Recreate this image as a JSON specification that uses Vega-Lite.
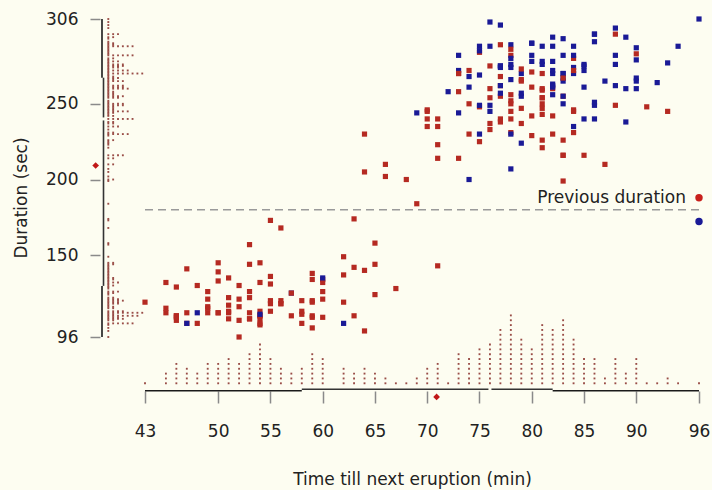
{
"$schema":"https://vega.github.io/schema/vega-lite/v6.json",
"width":554,"height":318,
"autosize":{"type":"none"},
"padding":{"left":145,"top":19,"right":13,"bottom":153},
"background":"#fdfdf1",
"config":{"view":{"stroke":null},"font":"DejaVu Sans","axis":{"grid":false,"domain":false}},
"data":{"values":[
{"w":79,"d":216},{"w":54,"d":108},{"w":74,"d":200},{"w":62,"d":137},{"w":85,"d":272},{"w":55,"d":173},{"w":88,"d":282},{"w":85,"d":216},{"w":51,"d":117},{"w":85,"d":261},
{"w":54,"d":110},{"w":84,"d":235},{"w":78,"d":252},{"w":47,"d":105},{"w":83,"d":282},{"w":52,"d":130},{"w":62,"d":105},{"w":84,"d":288},{"w":52,"d":96},{"w":79,"d":255},
{"w":51,"d":108},{"w":47,"d":105},{"w":78,"d":207},{"w":69,"d":184},{"w":74,"d":272},{"w":83,"d":216},{"w":55,"d":118},{"w":76,"d":245},{"w":78,"d":231},{"w":79,"d":266},
{"w":73,"d":258},{"w":77,"d":268},{"w":66,"d":202},{"w":80,"d":242},{"w":74,"d":230},{"w":52,"d":121},{"w":48,"d":112},{"w":80,"d":290},{"w":59,"d":110},{"w":90,"d":287},
{"w":80,"d":261},{"w":58,"d":113},{"w":84,"d":274},{"w":58,"d":105},{"w":73,"d":272},{"w":83,"d":199},{"w":64,"d":230},{"w":53,"d":126},{"w":82,"d":278},{"w":59,"d":120},
{"w":75,"d":288},{"w":90,"d":283},{"w":54,"d":110},{"w":80,"d":290},{"w":54,"d":104},{"w":83,"d":293},{"w":71,"d":223},{"w":64,"d":100},{"w":77,"d":274},{"w":81,"d":259},
{"w":59,"d":134},{"w":84,"d":270},{"w":48,"d":105},{"w":82,"d":288},{"w":60,"d":109},{"w":92,"d":264},{"w":78,"d":250},{"w":78,"d":282},{"w":65,"d":124},{"w":73,"d":282},
{"w":82,"d":242},{"w":56,"d":118},{"w":79,"d":270},{"w":71,"d":240},{"w":62,"d":119},{"w":76,"d":304},{"w":60,"d":121},{"w":78,"d":274},{"w":76,"d":233},{"w":83,"d":216},
{"w":75,"d":248},{"w":82,"d":260},{"w":70,"d":246},{"w":65,"d":158},{"w":73,"d":244},{"w":88,"d":296},{"w":76,"d":237},{"w":80,"d":271},{"w":48,"d":130},{"w":86,"d":240},
{"w":60,"d":132},{"w":90,"d":260},{"w":50,"d":112},{"w":78,"d":289},{"w":63,"d":110},{"w":72,"d":258},{"w":84,"d":280},{"w":75,"d":225},{"w":51,"d":112},{"w":82,"d":294},
{"w":62,"d":149},{"w":88,"d":262},{"w":49,"d":126},{"w":83,"d":270},{"w":81,"d":243},{"w":47,"d":112},{"w":84,"d":282},{"w":52,"d":107},{"w":86,"d":291},{"w":81,"d":221},
{"w":75,"d":284},{"w":59,"d":138},{"w":89,"d":294},{"w":79,"d":265},{"w":59,"d":102},{"w":81,"d":278},{"w":50,"d":139},{"w":85,"d":276},{"w":59,"d":109},{"w":87,"d":265},
{"w":53,"d":157},{"w":69,"d":244},{"w":77,"d":255},{"w":56,"d":118},{"w":88,"d":276},{"w":81,"d":226},{"w":45,"d":115},{"w":82,"d":270},{"w":55,"d":136},{"w":90,"d":279},
{"w":45,"d":112},{"w":83,"d":250},{"w":56,"d":168},{"w":89,"d":260},{"w":46,"d":110},{"w":82,"d":263},{"w":51,"d":113},{"w":86,"d":296},{"w":53,"d":122},{"w":79,"d":224},
{"w":81,"d":254},{"w":60,"d":134},{"w":82,"d":272},{"w":77,"d":289},{"w":76,"d":260},{"w":59,"d":119},{"w":80,"d":278},{"w":49,"d":121},{"w":96,"d":306},{"w":53,"d":108},
{"w":77,"d":302},{"w":77,"d":240},{"w":65,"d":144},{"w":81,"d":276},{"w":71,"d":214},{"w":70,"d":240},{"w":81,"d":270},{"w":93,"d":245},{"w":53,"d":108},{"w":89,"d":238},
{"w":45,"d":132},{"w":86,"d":249},{"w":58,"d":120},{"w":78,"d":230},{"w":66,"d":210},{"w":76,"d":275},{"w":63,"d":142},{"w":88,"d":300},{"w":52,"d":116},{"w":93,"d":277},
{"w":49,"d":115},{"w":57,"d":125},{"w":77,"d":275},{"w":68,"d":200},{"w":81,"d":250},{"w":81,"d":260},{"w":73,"d":270},{"w":50,"d":145},{"w":85,"d":240},{"w":74,"d":250},
{"w":55,"d":113},{"w":77,"d":275},{"w":83,"d":255},{"w":83,"d":226},{"w":51,"d":122},{"w":78,"d":266},{"w":84,"d":245},{"w":46,"d":110},{"w":83,"d":265},{"w":55,"d":131},
{"w":81,"d":288},{"w":57,"d":110},{"w":76,"d":288},{"w":84,"d":246},{"w":77,"d":238},{"w":81,"d":254},{"w":87,"d":210},{"w":77,"d":262},{"w":51,"d":135},{"w":78,"d":280},
{"w":60,"d":126},{"w":82,"d":261},{"w":91,"d":248},{"w":53,"d":112},{"w":78,"d":276},{"w":46,"d":107},{"w":77,"d":262},{"w":84,"d":231},{"w":49,"d":116},{"w":83,"d":270},
{"w":71,"d":143},{"w":80,"d":282},{"w":49,"d":112},{"w":75,"d":230},{"w":64,"d":205},{"w":76,"d":254},{"w":53,"d":144},{"w":94,"d":288},{"w":55,"d":120},{"w":76,"d":249},
{"w":50,"d":112},{"w":82,"d":256},{"w":54,"d":105},{"w":75,"d":269},{"w":78,"d":240},{"w":79,"d":247},{"w":78,"d":245},{"w":78,"d":256},{"w":70,"d":235},{"w":79,"d":273},
{"w":70,"d":245},{"w":54,"d":145},{"w":86,"d":251},{"w":50,"d":133},{"w":90,"d":267},{"w":54,"d":113},{"w":54,"d":111},{"w":77,"d":257},{"w":79,"d":237},{"w":64,"d":140},
{"w":75,"d":249},{"w":47,"d":141},{"w":86,"d":296},{"w":63,"d":174},{"w":85,"d":275},{"w":82,"d":230},{"w":57,"d":125},{"w":82,"d":262},{"w":67,"d":128},{"w":74,"d":261},
{"w":54,"d":132},{"w":83,"d":267},{"w":73,"d":214},{"w":73,"d":270},{"w":88,"d":249},{"w":80,"d":229},{"w":71,"d":235},{"w":83,"d":267},{"w":56,"d":120},{"w":79,"d":257},
{"w":78,"d":286},{"w":84,"d":272},{"w":58,"d":111},{"w":83,"d":255},{"w":43,"d":119},{"w":60,"d":135},{"w":75,"d":285},{"w":81,"d":247},{"w":46,"d":129},{"w":90,"d":265},
{"w":46,"d":109},{"w":74,"d":268}
]},
"resolve":{"scale":{"x":"independent","y":"independent"}},
"layer":[
 {"layer":[
  {"transform":[{"window":[{"op":"lag","field":"d","as":"p"}]}],
   "mark":{"type":"square","size":27,"opacity":1,"filled":true},
   "encoding":{
    "x":{"field":"w","type":"quantitative","scale":{"domain":[43,96],"nice":false,"zero":false},
     "axis":{"values":[43,50,55,60,65,70,75,80,85,90,96],"format":"d","offset":54,"tickSize":12,"tickColor":"#8a8a8a","tickWidth":1.5,"labelFontSize":17,"labelColor":"#222222","labelPadding":20,"labelFlush":false,"labelOverlap":false,"title":"Time till next eruption (min)","titleFontSize":17,"titleFontWeight":"normal","titleColor":"#222222","titleX":267,"titleY":93,"titleAlign":"center","titleBaseline":"alphabetic"}},
    "y":{"field":"d","type":"quantitative","scale":{"domain":[96,306],"nice":false,"zero":false},
     "axis":{"values":[96,150,200,250,306],"format":"d","offset":45,"tickSize":10,"tickColor":"#8a8a8a","tickWidth":1.5,"labelFontSize":17,"labelColor":"#222222","labelPadding":12,"labelFlush":false,"labelOverlap":false,"title":"Duration (sec)","titleFontSize":17,"titleFontWeight":"normal","titleColor":"#222222","titleAngle":270,"titleX":-74,"titleY":178.5,"titleAlign":"center","titleBaseline":"alphabetic"}},
    "color":{"condition":{"test":"datum.p == null","value":"#b52a22"},"field":"p","type":"quantitative","scale":{"type":"threshold","domain":[180],"range":["#1a1a96","#b52a22"]},"legend":null}
   }},
  {"data":{"values":[{}]},"mark":{"type":"rule","strokeDash":[8,5],"color":"#9a9a9a","strokeWidth":1.5},
   "encoding":{"x":{"datum":43},"x2":{"datum":96},"y":{"datum":180}}},
  {"transform":[{"aggregate":[
     {"op":"min","field":"d","as":"d0"},{"op":"q1","field":"d","as":"d1"},{"op":"median","field":"d","as":"d2"},{"op":"q3","field":"d","as":"d3"},{"op":"max","field":"d","as":"d4"},{"op":"mean","field":"d","as":"dm"},
     {"op":"min","field":"w","as":"w0"},{"op":"q1","field":"w","as":"w1"},{"op":"median","field":"w","as":"w2"},{"op":"q3","field":"w","as":"w3"},{"op":"max","field":"w","as":"w4"},{"op":"mean","field":"w","as":"wm"}]}],
   "layer":[
    {"mark":{"type":"rule","color":"#1a1a1a","strokeWidth":1.6},"encoding":{"x":{"datum":38.886},"y":{"field":"d0","type":"quantitative"},"y2":{"field":"d1"}}},
    {"mark":{"type":"rule","color":"#1a1a1a","strokeWidth":1.6},"encoding":{"x":{"datum":38.886},"y":{"field":"d3","type":"quantitative"},"y2":{"field":"d4"}}},
    {"mark":{"type":"rule","color":"#333333","strokeWidth":1.6},"encoding":{"x":{"datum":39.03},"y":{"field":"d1","type":"quantitative"},"y2":{"field":"d3"}}},
    {"mark":{"type":"rule","color":"#1a1a1a","strokeWidth":1.6},"encoding":{"y":{"datum":60.53},"x":{"field":"w0","type":"quantitative"},"x2":{"field":"w1"}}},
    {"mark":{"type":"rule","color":"#1a1a1a","strokeWidth":1.6},"encoding":{"y":{"datum":60.53},"x":{"field":"w3","type":"quantitative"},"x2":{"field":"w4"}}},
    {"mark":{"type":"rule","color":"#333333","strokeWidth":1.6},"encoding":{"y":{"datum":61.52},"x":{"field":"w1","type":"quantitative"},"x2":{"field":"w3"}}},
    {"mark":{"type":"square","size":9,"color":"#fdfdf1","opacity":1},"encoding":{"x":{"datum":39.03},"y":{"field":"d2","type":"quantitative"}}},
    {"mark":{"type":"square","size":9,"color":"#fdfdf1","opacity":1},"encoding":{"y":{"datum":61.52},"x":{"field":"w2","type":"quantitative"}}},
    {"mark":{"type":"point","shape":"diamond","filled":true,"size":45,"color":"#c01818","opacity":1},"encoding":{"x":{"datum":38.28},"y":{"field":"dm","type":"quantitative"}}},
    {"mark":{"type":"point","shape":"diamond","filled":true,"size":45,"color":"#c01818","opacity":1},"encoding":{"y":{"datum":56.4},"x":{"field":"wm","type":"quantitative"}}}
   ]},
  {"data":{"values":[{}]},"mark":{"type":"circle","size":55,"color":"#c8201c","opacity":1},"encoding":{"x":{"datum":96},"y":{"datum":188}}},
  {"data":{"values":[{}]},"mark":{"type":"circle","size":55,"color":"#1a1a96","opacity":1},"encoding":{"x":{"datum":96},"y":{"datum":172.3}}},
  {"data":{"values":[{}]},"mark":{"type":"text","text":"Previous duration","align":"right","baseline":"middle","dx":-13,"fontSize":17,"color":"#222222","font":"DejaVu Sans"},"encoding":{"x":{"datum":96},"y":{"datum":188}}}
 ]},
 {"transform":[{"window":[{"op":"row_number","as":"k"}],"groupby":["d"]}],
  "mark":{"type":"square","size":3.5,"color":"#8e3a34","opacity":0.9},
  "encoding":{
   "x":{"field":"k","type":"quantitative","scale":{"domain":[8.567,122.8],"nice":false,"zero":false},"axis":null},
   "y":{"field":"d","type":"quantitative","scale":{"domain":[96,306],"nice":false,"zero":false},"axis":null}}},
 {"transform":[{"window":[{"op":"row_number","as":"k"}],"groupby":["w"]}],
  "mark":{"type":"square","size":3.5,"color":"#8e3a34","opacity":0.9},
  "encoding":{
   "x":{"field":"w","type":"quantitative","scale":{"domain":[43,96],"nice":false,"zero":false},"axis":null},
   "y":{"field":"k","type":"quantitative","scale":{"domain":[10.546,76.11],"nice":false,"zero":false},"axis":null}}}
]
}
